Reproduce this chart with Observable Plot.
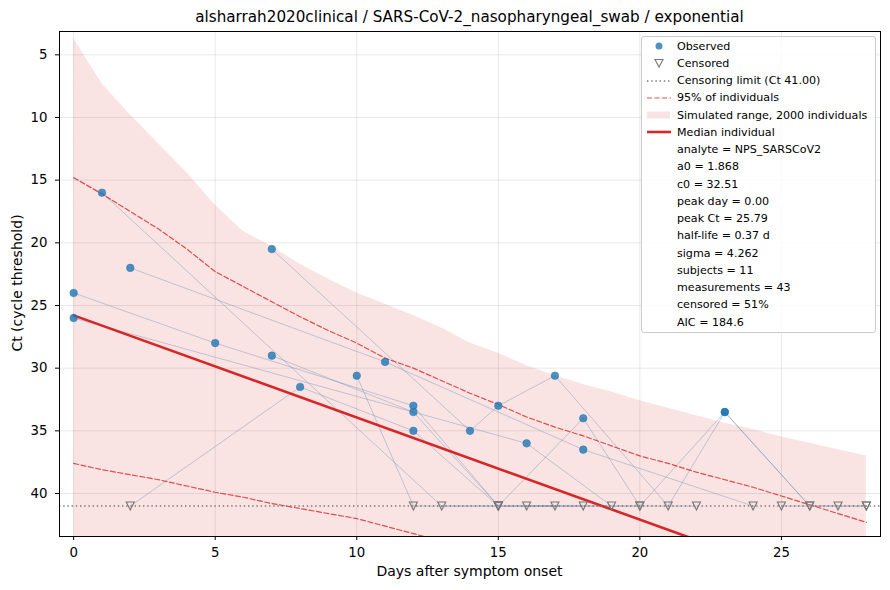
<!DOCTYPE html>
<html>
<head>
<meta charset="utf-8">
<script src="https://cdn.jsdelivr.net/npm/d3@7"></script>
<script src="https://cdn.jsdelivr.net/npm/@observablehq/plot@0.6"></script>
<style>
  body { margin: 0; background: white; font-family: "DejaVu Sans", sans-serif; }
  #wrap { position: relative; width: 890px; height: 590px; }
  .ov { position: absolute; white-space: nowrap; color: #000; }
  #legend { position: absolute; left: 641px; top: 36px; width: 233px; height: 295px;
            border: 1px solid #cccccc; border-radius: 3px; background: rgba(255,255,255,0.85); }
  .lrow { position: absolute; left: 35px; font-size: 11.1px; line-height: 13px; }
  .lsym { position: absolute; left: 4px; }
</style>
</head>
<body>
<div id="wrap"></div>
<script>
// ---------- data ----------
const titleText = "alsharrah2020clinical / SARS-CoV-2_nasopharyngeal_swab / exponential";
const xLabel = "Days after symptom onset";
const yLabel = "Ct (cycle threshold)";
const xTicks = [0, 5, 10, 15, 20, 25];
const yTicks = [5, 10, 15, 20, 25, 30, 35, 40];
const censorLimit = 41;

// per-subject measurement days and Ct values (41 = censored)
const subjectDays = [
  [0, 5, 12, 15, 18, 20, 23, 26],
  [0, 16, 19],
  [1, 13, 17],
  [2, 11, 18, 24],
  [2, 8, 12, 15, 18],
  [7, 14, 15, 17, 21, 23, 26, 28],
  [7, 12, 15, 20],
  [10, 12, 15],
  [16, 22],
  [27],
  [25, 28]
];
const subjectCt = [
  [24, 28, 33, 41, 34, 41, 33.5, 41],
  [26, 36, 41],
  [16, 41, 41],
  [22, 29.5, 36.5, 41],
  [41, 31.5, 35, 41, 41],
  [20.5, 35, 33, 30.6, 41, 33.5, 41, 41],
  [29, 33.5, 41, 41],
  [30.6, 41, 41],
  [41, 41],
  [41],
  [41, 41]
];

// simulated range (upper edge) and 95% band
const bandDays  = [0, 1, 2, 3, 4, 5, 6, 7, 8, 9, 10, 11, 12, 13, 14, 15, 16, 17, 18, 19, 20, 21, 22, 23, 24, 25, 26, 27, 28];
const bandUpper = [3.7, 7.3, 9.8, 12.1, 14.4, 17.0, 19.1, 20.3, 21.7, 22.9, 24.0, 24.9, 25.8, 26.8, 28.0, 28.8, 29.8, 30.6, 31.3, 31.9, 32.6, 33.2, 33.8, 34.4, 34.9, 35.5, 36.0, 36.5, 37.0];
const bandLower = [46, 46, 46, 46, 46, 46, 46, 46, 46, 46, 46, 46, 46, 46, 46, 46, 46, 46, 46, 46, 46, 46, 46, 46, 46, 46, 46, 46, 46];
const p95Upper  = [14.8, 16.1, 17.5, 18.9, 20.5, 22.3, 23.5, 24.7, 25.9, 27.0, 28.0, 29.2, 30.0, 31.0, 32.0, 32.9, 33.9, 34.7, 35.4, 36.2, 37.0, 37.6, 38.3, 38.9, 39.5, 40.2, 40.9, 41.6, 42.3];
const lowDays   = [0, 1, 2, 3, 4, 5, 6, 7, 8, 9, 10, 11, 12, 13, 14];
const p95Lower  = [37.6, 38.1, 38.5, 38.9, 39.4, 39.9, 40.3, 40.8, 41.2, 41.6, 42.0, 42.6, 43.2, 43.8, 44.4];
const medianDays = [0, 28];
const medianCt   = [25.79, 48.6];

const legendLabels = ["Observed", "Censored", "Censoring limit (Ct 41.00)", "95% of individuals",
  "Simulated range, 2000 individuals", "Median individual"];
const paramLabels = ["analyte = NPS_SARSCoV2", "a0 = 1.868", "c0 = 32.51", "peak day = 0.00",
  "peak Ct = 25.79", "half-life = 0.37 d", "sigma = 4.262", "subjects = 11",
  "measurements = 43", "censored = 51%", "AIC = 184.6"];

// ---------- build tables ----------
const meas = subjectDays.flatMap((days, i) => days.map((d, j) => ({id: i, day: d, ct: subjectCt[i][j], cens: subjectCt[i][j] >= censorLimit})));
const band = bandDays.map((d, i) => ({day: d, lo: bandLower[i], hi: bandUpper[i], up95: p95Upper[i]}));
const low = lowDays.map((d, i) => ({day: d, ct: p95Lower[i]}));
const med = medianDays.map((d, i) => ({day: d, ct: medianCt[i]}));

const triDown = {
  draw(ctx, size) {
    const r = Math.sqrt(size / Math.PI);
    ctx.moveTo(0, r);
    ctx.lineTo(-r, -r);
    ctx.lineTo(r, -r);
    ctx.closePath();
  }
};

const red = "#d62728";
const plot = Plot.plot({
  width: 890, height: 590,
  marginTop: 31, marginBottom: 54, marginLeft: 59, marginRight: 10,
  style: {fontFamily: "'DejaVu Sans', sans-serif", fontSize: "13.3px", color: "#000", background: "white", overflow: "visible"},
  x: {domain: [-0.5, 28.5]},
  y: {domain: [43.43, 3.14]},
  marks: [
    Plot.gridX(xTicks, {stroke: "#000", strokeOpacity: 0.1, strokeWidth: 0.9}),
    Plot.gridY(yTicks, {stroke: "#000", strokeOpacity: 0.1, strokeWidth: 0.9}),
    Plot.areaY(band, {x: "day", y1: "lo", y2: "hi", fill: red, fillOpacity: 0.13, clip: true, curve: "linear"}),
    Plot.line(meas, {x: "day", y: "ct", z: "id", stroke: "#4a78a8", strokeOpacity: 0.33, strokeWidth: 1}),
    Plot.line(band, {x: "day", y: "up95", stroke: red, strokeOpacity: 0.8, strokeWidth: 1.2, strokeDasharray: "5,2.5", clip: true}),
    Plot.line(low, {x: "day", y: "ct", stroke: red, strokeOpacity: 0.8, strokeWidth: 1.2, strokeDasharray: "5,2.5", clip: true}),
    Plot.line(med, {x: "day", y: "ct", stroke: red, strokeWidth: 2.6, clip: true}),
    Plot.ruleY([censorLimit], {stroke: "#777", strokeWidth: 1.4, strokeDasharray: "1.4,2.8"}),
    Plot.dot(meas.filter(d => d.cens), {x: "day", y: "ct", symbol: triDown, r: 4, fill: "none", stroke: "#777", strokeWidth: 1.1}),
    Plot.dot(meas.filter(d => !d.cens), {x: "day", y: "ct", r: 3.8, fill: "#1f77b4", fillOpacity: 0.8, stroke: "#1f77b4", strokeOpacity: 0.8, strokeWidth: 0.6}),
    Plot.frame({stroke: "#000", strokeWidth: 1}),
    Plot.axisX({ticks: xTicks, tickSize: 4, tickPadding: 7, label: null, stroke: "#000"}),
    Plot.axisY({ticks: yTicks, tickSize: 4, tickPadding: 8, label: null, stroke: "#000"})
  ]
});
const wrap = document.getElementById("wrap");
wrap.appendChild(plot);

// ---------- text overlays ----------
function ov(text, css) {
  const d = document.createElement("div");
  d.className = "ov";
  d.textContent = text;
  Object.assign(d.style, css);
  wrap.appendChild(d);
  return d;
}
ov(titleText, {left: "0px", width: "939px", textAlign: "center", top: "8px", fontSize: "15.2px", lineHeight: "18px"});
ov(xLabel, {left: "0px", width: "939px", textAlign: "center", top: "563px", fontSize: "14px", lineHeight: "17px"});
ov(yLabel, {left: "17px", top: "283px", fontSize: "14px", lineHeight: "17px", transform: "translate(-50%,-50%) rotate(-90deg)"});

// ---------- legend ----------
const legend = document.createElement("div");
legend.id = "legend";
wrap.appendChild(legend);
const rowH = 17.25, firstY = 9;
const allRows = legendLabels.concat(paramLabels);
const sym = [
  `<circle cx="13" cy="6" r="3.5" fill="#1f77b4" fill-opacity="0.8"/>`,
  `<path d="M9,2.5 L17,2.5 L13,10 Z" fill="none" stroke="#777" stroke-width="1.1"/>`,
  `<line x1="1" y1="6" x2="25" y2="6" stroke="#777" stroke-width="1.4" stroke-dasharray="1.4,2.8"/>`,
  `<line x1="1" y1="6" x2="25" y2="6" stroke="${red}" stroke-opacity="0.8" stroke-width="1.2" stroke-dasharray="5,2.5"/>`,
  `<rect x="1" y="2.5" width="23" height="7" fill="${red}" fill-opacity="0.13"/>`,
  `<line x1="1" y1="6" x2="25" y2="6" stroke="${red}" stroke-width="2.6"/>`
];
allRows.forEach((t, i) => {
  const cy = firstY + i * rowH;
  const r = document.createElement("div");
  r.className = "lrow";
  r.textContent = t;
  r.style.top = (cy - 6.5) + "px";
  legend.appendChild(r);
  if (i < sym.length) {
    const s = document.createElementNS("http://www.w3.org/2000/svg", "svg");
    s.setAttribute("width", "26"); s.setAttribute("height", "12");
    s.setAttribute("class", "lsym");
    s.style.top = (cy - 6) + "px";
    s.innerHTML = sym[i];
    legend.appendChild(s);
  }
});
</script>
</body>
</html>
